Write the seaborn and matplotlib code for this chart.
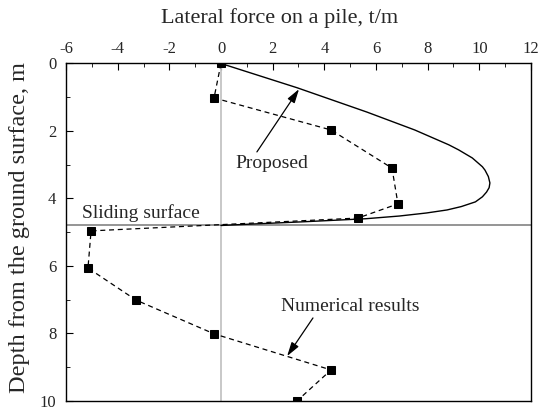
import matplotlib
matplotlib.use("Agg")
import matplotlib.pyplot as plt
from matplotlib.ticker import MultipleLocator
import seaborn as sns
import pandas as pd

# Numerical results (depth m, lateral force t/m)
num_depth = [0.0, 1.02, 1.97, 3.10, 4.16, 4.58, 4.96, 6.06, 7.01, 8.01, 9.08, 10.0]
num_force = [0.0, -0.27, 4.26, 6.62, 6.85, 5.30, -5.03, -5.15, -3.29, -0.27, 4.26, 2.94]

# Proposed curve
prop_depth = [0.0, 0.72, 1.44, 1.97, 2.41, 2.56, 2.80, 3.06, 3.16, 3.35, 3.54, 3.68,
              3.81, 3.95, 4.10, 4.24, 4.34, 4.43, 4.52, 4.60, 4.69, 4.76, 4.80]
prop_force = [0.0, 2.95, 5.65, 7.50, 8.82, 9.20, 9.73, 10.12, 10.22, 10.35, 10.41, 10.38,
              10.28, 10.12, 9.85, 9.30, 8.75, 7.95, 6.90, 5.60, 3.20, 1.12, 0.0]

sliding_depth = 4.8
x_ticks = [-6, -4, -2, 0, 2, 4, 6, 8, 10, 12]
y_ticks = [0, 2, 4, 6, 8, 10]

sns.set_style("ticks")
plt.rcParams['font.family'] = ['Liberation Serif', 'DejaVu Serif']
plt.rcParams['mathtext.fontset'] = 'stix'

fig = plt.figure(figsize=(5.47, 4.08), dpi=100)
ax = fig.add_axes([0.1207, 0.0172, 0.8500, 0.8272])

ax.axvline(0, color='#c4c4c4', lw=1.3, zorder=1)
ax.axhline(sliding_depth, color='#8c8c8c', lw=1.3, zorder=1)

df_prop = pd.DataFrame({'force': prop_force, 'depth': prop_depth})
df_num = pd.DataFrame({'force': num_force, 'depth': num_depth})

sns.lineplot(data=df_prop, x='force', y='depth', sort=False, estimator=None,
             color='black', lw=1.0, ax=ax, zorder=3)
sns.lineplot(data=df_num, x='force', y='depth', sort=False, estimator=None,
             color='black', lw=0.9, linestyle=(0, (4, 3)), marker='s',
             markersize=5.5, markeredgecolor='black', markerfacecolor='black',
             ax=ax, zorder=4)

ax.set_xlim(-6, 12)
ax.set_ylim(10, 0)
ax.set_xticks(x_ticks)
ax.set_yticks(y_ticks)
ax.set_xticklabels([str(v) for v in x_ticks])
ax.set_yticklabels([str(v) for v in y_ticks])
ax.xaxis.set_minor_locator(MultipleLocator(1))
ax.yaxis.set_minor_locator(MultipleLocator(1))
ax.xaxis.tick_top()
ax.xaxis.set_label_position('top')
ax.tick_params(axis='both', which='both', direction='in', labelsize=12, color='black')
ax.tick_params(axis='x', which='major', length=5, pad=5, top=True, bottom=False)
ax.tick_params(axis='x', which='minor', length=3, top=True, bottom=False)
ax.tick_params(axis='y', which='major', length=5, pad=7, left=True, right=False)
ax.tick_params(axis='y', which='minor', length=3, left=True, right=False)

for s in ax.spines.values():
    s.set_visible(True)
    s.set_color('black')
    s.set_linewidth(1.0)

ax.set_xlabel('Lateral force on a pile, t/m', fontsize=16)
ax.set_ylabel('Depth from the ground surface, m', fontsize=17.5)
ax.xaxis.set_label_coords(0.46, 1.12)
ax.yaxis.set_label_coords(-0.077, 0.515)

ax.text(-5.38, 4.43, 'Sliding surface', fontsize=14, ha='left', va='center')
ax.text(1.97, 2.95, 'Proposed', fontsize=14, ha='center', va='center')
ax.text(4.99, 7.19, 'Numerical results', fontsize=14, ha='center', va='center')

arrow_style = '-|>,head_length=0.6,head_width=0.18'
ax.annotate('', xy=(3.02, 0.76), xytext=(1.39, 2.62),
            arrowprops=dict(arrowstyle=arrow_style, color='black', lw=0.9,
                            mutation_scale=14, shrinkA=0, shrinkB=0))
ax.annotate('', xy=(2.56, 8.67), xytext=(3.56, 7.54),
            arrowprops=dict(arrowstyle=arrow_style, color='black', lw=0.9,
                            mutation_scale=14, shrinkA=0, shrinkB=0))

ax.set_facecolor('white')
fig.patch.set_facecolor('white')
fig.savefig('out.png', dpi=100)
